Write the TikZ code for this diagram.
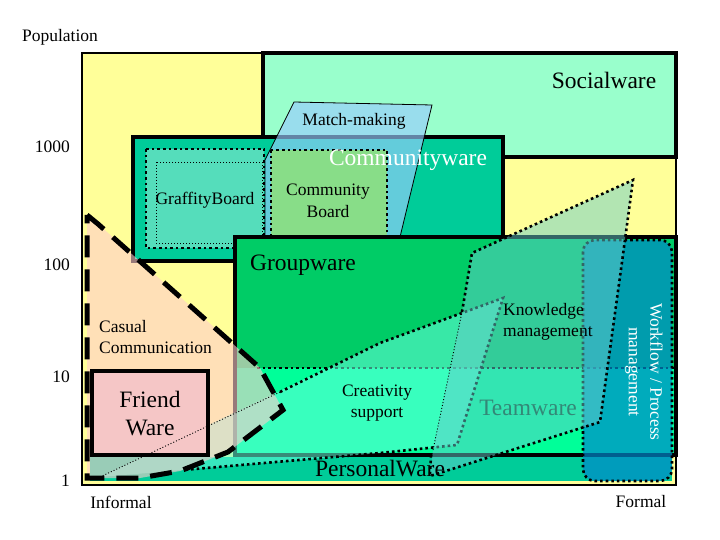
\documentclass[tikz,border=0pt]{standalone}
\usepackage{fontspec}
\setmainfont{Liberation Serif}
\usetikzlibrary{
	calc,
	positioning,
}
\definecolor{paleyellow}{HTML}{FFFF99}
\definecolor{socialmint}{HTML}{99FFCC}
\definecolor{communityteal}{HTML}{00CC99}
\definecolor{groupgreen}{HTML}{00CC66}
\definecolor{teambright}{HTML}{00FF99}
\definecolor{graffityfill}{HTML}{55DDBB}
\definecolor{boardfill}{HTML}{88DD88}
\definecolor{matchblue}{HTML}{99CCFF}
\definecolor{casualpink}{HTML}{FFCCCC}
\definecolor{friendpink}{HTML}{F5C6C6}
\definecolor{creativecyan}{HTML}{66FFDD}
\definecolor{knowledgefill}{HTML}{66CCCC}
\definecolor{workflowblue}{HTML}{0088CC}
\definecolor{teamtext}{HTML}{338877}
\tikzset{
	box line/.style={line width=4pt},
	thick dots/.style={line width=2.6pt, dash pattern=on 2.6pt off 3pt},
	thin dots/.style={line width=0.9pt, dash pattern=on 1pt off 2pt},
	casual dash/.style={line width=5pt, dash pattern=on 22pt off 12pt},
	small label/.style={font=\fontsize{17.5}{21.5}\selectfont, align=center, inner sep=0pt},
	big label/.style={font=\fontsize{23.5}{28}\selectfont, align=center, inner sep=0pt},
}
\begin{document}
\begin{tikzpicture}[x=1pt,y=-1pt]
\useasboundingbox (0,0) rectangle (720,540);

% ground of the chart
\fill[paleyellow] (82,53) rectangle (676,485);

% socialware and communityware
\draw[box line, fill=socialmint] (263,53) rectangle (676,157);
\draw[box line, fill=communityteal] (133,137) rectangle (503,261);

% match-making
\draw[line width=0.8pt, fill=matchblue, fill opacity=0.65]
	(294,102) -- (432,105) -- (400,237) -- (265,237) -- (265,160) -- cycle;

% boards
\draw[thick dots, fill=graffityfill] (146,149) rectangle (264,248);
\draw[thin dots] (156,162) rectangle (262,243);
\draw[thick dots, fill=boardfill] (271,150) rectangle (387,248);

% groupware, teamware band, personalware
\draw[box line, fill=groupgreen] (235,237) rectangle (676,455);
\fill[teambright] (237,368) rectangle (674,453);
\draw[thick dots] (257,368) -- (674,368);
\fill[communityteal] (90,457) rectangle (672,481);

% creativity support (fill)
\fill[creativecyan, opacity=0.55]
	(100,477) -- (380,343) -- (503,298) -- (457,445) -- (380,453) -- (183,470) -- cycle;

% casual communication (fill)
\fill[casualpink, opacity=0.6]
	(87,215) -- (98,224) -- (260,368) -- (283,410) -- (228,452)
	-- (180,471) -- (140,478) -- (87,478) -- cycle;

% friendware
\draw[line width=3.5pt, fill=friendpink] (92,371) rectangle (208,455);

% creativity support (border)
\draw[thin dots] (100,477) -- (280,392);
\draw[thick dots] (280,392) -- (380,343) -- (503,298) -- (457,445) -- (380,453) -- (183,470);

% workflow
\draw[thick dots, rounded corners=12pt, fill=workflowblue, fill opacity=0.7]
	(583,240) rectangle (672,481);

% knowledge management
\fill[knowledgefill, opacity=0.5]
	(472,253) -- (633,180) -- (600,422) -- (430,476) -- (433,450) -- (462,312) -- cycle;
\draw[thick dots] (462,312) -- (472,253) -- (633,180) -- (622,262) -- (600,422) -- (430,476) -- (431,455);
\draw[thin dots] (433,450) -- (462,312);

% casual communication (border)
\draw[casual dash]
	(87,215) -- (98,224) -- (260,368) -- (283,410) -- (228,452)
	-- (180,471) -- (140,478) -- (87,478) -- cycle;

% frame
\draw[line width=2pt] (82,53) rectangle (676,485);

% axis texts
\node[small label] (population) at (60,37) {Population};
\node[small label, anchor=east] (p1000) at (70,147) {1000};
\node[small label, anchor=east] (p100) at (70,265) {100};
\node[small label, anchor=east] (p10) at (70,377) {10};
\node[small label, anchor=east] (p1) at (70,481) {1};
\node[small label] (informal) at (121,502) {Informal};
\node[small label] (formal) at (641,502) {Formal};

% region texts
\node[big label] (socialware) at (604,80) {Socialware};
\node[small label] (matchmaking) at (354,121) {Match-making};
\node[big label, text=white] (communityware) at (408,160) {Communityware};
\node[small label] (graffity) at (205,200) {GraffityBoard};
\node[small label] (board) at (328,201) {Community\\Board};
\node[big label] (groupware) at (303,265) {Groupware};
\node[small label, align=left, anchor=west] (casual) at (99,337) {Casual\\Communication};
\node[big label] (friendware) at (150,414) {Friend\\Ware};
\node[small label] (creativity) at (377,403) {Creativity\\support};
\node[small label, align=left, anchor=west] (knowledge) at (503,322) {Knowledge\\management};
\node[big label, text=teamtext] (teamware) at (528,408) {Teamware};
\node[big label] (personalware) at (380,469) {PersonalWare};
\node[small label, text=white, rotate=-90] (workflow) at (644,372) {Workflow / Process\\management};
\end{tikzpicture}
\end{document}
